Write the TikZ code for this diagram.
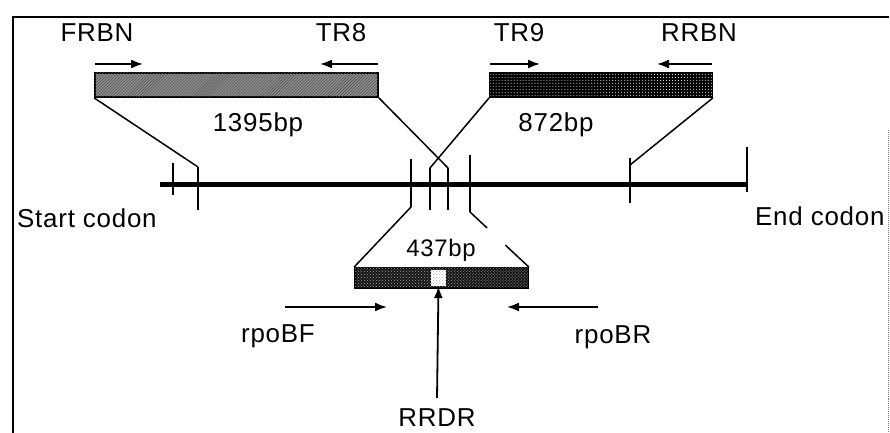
\documentclass[tikz,border=0pt]{standalone}
\usepackage{fontspec}
\setmainfont[LetterSpace=3]{Liberation Sans}
\usetikzlibrary{arrows.meta,patterns,calc}
\begin{document}
\begin{tikzpicture}[x=1bp,y=-1bp,
  lbl/.style={anchor=base,inner sep=0pt,font=\fontsize{26}{30}\selectfont},
  bar/.style={draw,line width=1.8bp,inner sep=0pt,minimum height=24bp},
  prim/.style={line width=1.8bp,-{Latex[length=12bp,width=9bp]}},
  ln/.style={line width=1.5bp},
  tick/.style={line width=2bp}]
\useasboundingbox (0,0) rectangle (890,433);
% frame
\draw[line width=1.5bp] (13,433) -- (13,17) -- (889,17);
\draw[gray,densely dotted,line width=1bp] (888,130) -- (888,433);
% bars
\node[bar,minimum width=283bp,fill=black!45,postaction={pattern=north east lines,pattern color=black!70}] (b1) at (236.5,85) {};
\node[bar,minimum width=222bp,fill=black,postaction={pattern=dots,pattern color=white}] (b2) at (601,85) {};
\node[bar,minimum width=173bp,minimum height=20bp,fill=black!92,postaction={pattern=crosshatch dots,pattern color=gray!70}] (b3) at (441.5,278) {};
\node[fill=white,inner sep=0pt,minimum width=15bp,minimum height=16bp,postaction={pattern=crosshatch dots,pattern color=gray!60}] (rr) at (438.5,278) {};
% gene line
\coordinate (gL) at (160,185);
\coordinate (gR) at (747,185);
\draw[line width=5bp] (gL) -- (gR);
% ticks
\coordinate (t1a) at (173,163); \coordinate (t1b) at (173,195);
\draw[tick] (t1a) -- (t1b);
\coordinate (t2a) at (198,167); \coordinate (t2b) at (198,210);
\draw[ln] (b1.south west) -- (t2a);
\draw[tick] (t2a) -- (t2b);
\coordinate (t3a) at (411,159); \coordinate (t3b) at (411,207);
\draw[tick] (t3a) -- (t3b);
\draw[ln] (t3b) -- (b3.north west);
\coordinate (t4a) at (448,168); \coordinate (t4b) at (448,210);
\draw[ln] (b1.south east) -- (t4a);
\draw[tick] (t4a) -- (t4b);
\coordinate (t5a) at (430,168); \coordinate (t5b) at (430,210);
\draw[ln] (b2.south west) -- (t5a);
\draw[tick] (t5a) -- (t5b);
\coordinate (t6a) at (470,155); \coordinate (t6b) at (470,212);
\draw[tick] (t6a) -- (t6b);
\draw[ln] (t6b) -- ($(t6b)!0.29!(b3.north east)$);
\draw[ln] ($(t6b)!0.6!(b3.north east)$) -- (b3.north east);
\coordinate (t7j) at (630,165);
\coordinate (t7a) at (630,158); \coordinate (t7b) at (630,203);
\draw[ln] (b2.south east) -- (t7j);
\draw[tick] (t7a) -- (t7b);
\coordinate (t8a) at (747,147); \coordinate (t8b) at (747,192);
\draw[tick] (t8a) -- (t8b);
% primer arrows
\coordinate (p1a) at (95,64);  \coordinate (p1b) at (143,64);
\coordinate (p2a) at (378,64); \coordinate (p2b) at (320,64);
\coordinate (p3a) at (490,64); \coordinate (p3b) at (540,64);
\coordinate (p4a) at (712,64); \coordinate (p4b) at (657,64);
\coordinate (p5a) at (285,307); \coordinate (p5b) at (387,307);
\coordinate (p6a) at (598,307); \coordinate (p6b) at (507,307);
\coordinate (p7a) at (437,398);
\draw[prim] (p1a) -- (p1b);
\draw[prim] (p2a) -- (p2b);
\draw[prim] (p3a) -- (p3b);
\draw[prim] (p4a) -- (p4b);
\draw[prim] (p5a) -- (p5b);
\draw[prim] (p6a) -- (p6b);
\draw[prim] (p7a) -- (rr.south);
% labels
\node[lbl] (lFRBN) at (97,42) {FRBN};
\node[lbl] (lTR8) at (341,42) {TR8};
\node[lbl] (lTR9) at (519,42) {TR9};
\node[lbl] (lRRBN) at (699,42) {RRBN};
\node[lbl] (l1395) at (258,132) {1395bp};
\node[lbl] (l872) at (556,132) {872bp};
\node[lbl,anchor=base west] (lstart) at (17,228) {Start codon};
\node[lbl,anchor=base west] (lend) at (755,226) {End codon};
\node[lbl,font=\fontsize{24}{28}\selectfont] (l437) at (441,257) {437bp};
\node[lbl] (lF) at (278,343) {rpoBF};
\node[lbl] (lR) at (613,344) {rpoBR};
\node[lbl] (lRRDR) at (437,426) {RRDR};
\end{tikzpicture}
\end{document}
